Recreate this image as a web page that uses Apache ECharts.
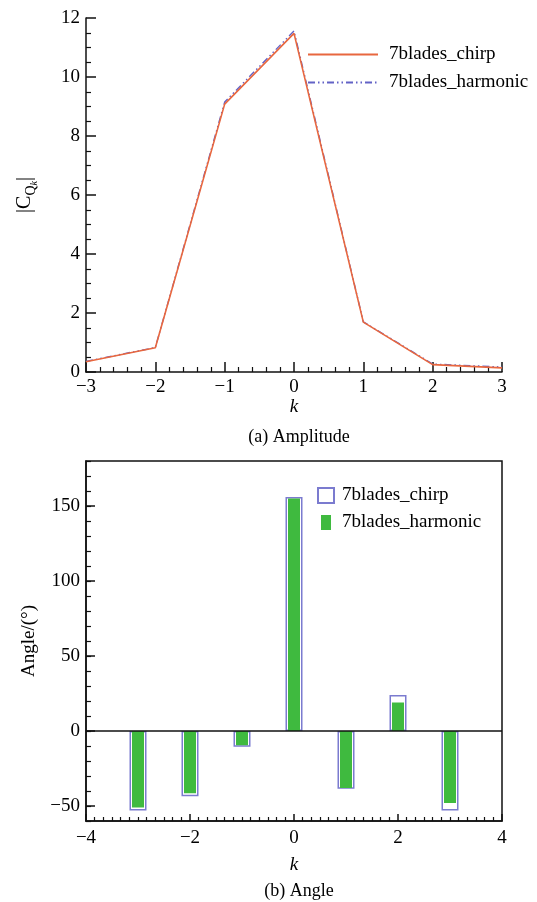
<!DOCTYPE html>
<html>
<head>
<meta charset="utf-8">
<script src="https://cdn.jsdelivr.net/npm/echarts@6/dist/echarts.min.js"></script>
<style>
html,body{margin:0;padding:0;background:#fff;}
#main{width:537px;height:902px;}
</style>
</head>
<body>
<div id="main"></div>
<script>
// ---- data ----
const kAmp = [-3, -2, -1, 0, 1, 2, 3];
const ampChirp = [0.35, 0.82, 9.08, 11.48, 1.69, 0.25, 0.14];
const ampHarmonic = [0.36, 0.83, 9.15, 11.56, 1.70, 0.27, 0.17];

const kAngle = [-3, -2, -1, 0, 1, 2, 3];
const angleChirp = [-53, -43.5, -10.5, 156, -38.5, 24, -53];
const angleHarmonic = [-51, -41.5, -9.5, 155, -38, 19, -48];

const angleLabelValues = [-50, 0, 50, 100, 150];

const FONT = 'Liberation Serif';
const minus = v => String(v).replace('-', '\u2212');

const pairs = (xs, ys) => xs.map((x, i) => [x, ys[i]]);

const axisCommon = {
  type: 'value',
  splitLine: { show: false },
  axisLine: { show: true, onZero: false, lineStyle: { color: '#111', width: 1.5 } },
  axisLabel: { color: '#000', fontFamily: FONT, fontSize: 19, formatter: minus }
};

const chart = echarts.init(document.getElementById('main'));
chart.setOption({
  backgroundColor: '#fff',
  animation: false,
  title: [
    { text: '(a) Amplitude', left: 294, top: 423, textAlign: 'center',
      textStyle: { fontFamily: FONT, fontSize: 18, fontWeight: 'normal', color: '#000' } },
    { text: '(b) Angle', left: 294, top: 877, textAlign: 'center',
      textStyle: { fontFamily: FONT, fontSize: 18, fontWeight: 'normal', color: '#000' } }
  ],
  legend: [
    {
      orient: 'vertical', left: 302, top: 40, itemWidth: 70, itemHeight: 14, itemGap: 9,
      data: ['7blades_chirp', '7blades_harmonic'],
      itemStyle: { opacity: 0 },
      textStyle: { fontFamily: FONT, fontSize: 19, color: '#000', padding: [0, 0, 0, 6] },
      selectedMode: false
    },
    {
      orient: 'vertical', left: 312, top: 481, itemWidth: 16, itemHeight: 15, itemGap: 8,
      data: [
        { name: 'chirp_b', icon: 'rect' },
        { name: 'harmonic_b', icon: 'path://M0,0h10v15h-10z' }
      ],
      formatter: n => n === 'chirp_b' ? '7blades_chirp' : '7blades_harmonic',
      textStyle: { fontFamily: FONT, fontSize: 19, color: '#000', padding: [0, 0, 0, 3] },
      selectedMode: false
    }
  ],
  grid: [
    { left: 86, top: 18, width: 416, height: 354, show: false },
    { left: 86, top: 461, width: 416, height: 360, show: true, borderColor: '#111', borderWidth: 1.5 }
  ],
  xAxis: [
    Object.assign({}, axisCommon, {
      gridIndex: 0, min: -3, max: 3, interval: 1, position: 'bottom',
      axisTick: { inside: true, length: 10, lineStyle: { color: '#111', width: 1.5 } },
      minorTick: { show: true, splitNumber: 5, length: 5, lineStyle: { color: '#111', width: 1.2 } },
      axisLabel: Object.assign({}, axisCommon.axisLabel, { margin: 6 }),
      name: 'k', nameLocation: 'middle', nameGap: 23,
      nameTextStyle: { fontFamily: FONT, fontSize: 19, fontStyle: 'italic', color: '#000' }
    }),
    Object.assign({}, axisCommon, {
      gridIndex: 1, min: -4, max: 4, interval: 2, position: 'bottom',
      axisTick: { inside: true, length: 7, lineStyle: { color: '#111', width: 1.5 } },
      minorTick: { show: true, splitNumber: 12, length: 4, lineStyle: { color: '#111', width: 1.2 } },
      axisLabel: Object.assign({}, axisCommon.axisLabel, { margin: 8 }),
      name: 'k', nameLocation: 'middle', nameGap: 34,
      nameTextStyle: { fontFamily: FONT, fontSize: 19, fontStyle: 'italic', color: '#000' }
    }),
    {
      type: 'value', gridIndex: 1, min: -4, max: 4, show: false, position: 'bottom'
    }
  ],
  yAxis: [
    Object.assign({}, axisCommon, {
      gridIndex: 0, min: 0, max: 12, interval: 2, position: 'left',
      axisTick: { inside: true, length: 10, lineStyle: { color: '#111', width: 1.5 } },
      minorTick: { show: true, splitNumber: 4, length: 5, lineStyle: { color: '#111', width: 1.2 } },
      axisLabel: Object.assign({}, axisCommon.axisLabel, { margin: 6 }),
      name: '{a||C}{b|Q}{c|k}{a||}', nameLocation: 'middle', nameGap: 45, nameRotate: 90,
      nameTextStyle: {
        fontFamily: FONT, fontSize: 19, color: '#000',
        rich: {
          a: { fontFamily: FONT, fontSize: 20, color: '#000', lineHeight: 26, verticalAlign: 'top' },
          b: { fontFamily: FONT, fontSize: 14, color: '#000', lineHeight: 26, verticalAlign: 'top', padding: [9, 0, 0, 0] },
          c: { fontFamily: FONT, fontSize: 10, fontStyle: 'italic', color: '#000', lineHeight: 26, verticalAlign: 'top', padding: [14, 0, 0, 0] }
        }
      }
    }),
    Object.assign({}, axisCommon, {
      gridIndex: 1, min: -60, max: 180, interval: 10, position: 'left',
      axisTick: { inside: true, length: 5, lineStyle: { color: '#111', width: 1.2 } },
      axisLabel: { show: false }
    }),
    Object.assign({}, axisCommon, {
      gridIndex: 1, min: -60, max: 180, interval: 10, position: 'left', offset: 0,
      axisLine: { show: false, onZero: false },
      axisTick: { inside: true, length: 9, customValues: angleLabelValues, lineStyle: { color: '#111', width: 1.5 } },
      axisLabel: Object.assign({}, axisCommon.axisLabel, { margin: 6, customValues: angleLabelValues }),
      name: 'Angle/(°)', nameLocation: 'middle', nameGap: 47, nameRotate: 90,
      nameTextStyle: { fontFamily: FONT, fontSize: 19, color: '#000' }
    })
  ],
  series: [
    {
      name: '7blades_chirp', type: 'line', xAxisIndex: 0, yAxisIndex: 0,
      data: pairs(kAmp, ampChirp), symbol: 'none',
      lineStyle: { color: '#e8673f', width: 1.6 }, itemStyle: { color: '#e8673f' }
    },
    {
      name: '7blades_harmonic', type: 'line', xAxisIndex: 0, yAxisIndex: 0,
      data: pairs(kAmp, ampHarmonic), symbol: 'none', z: 1,
      lineStyle: { color: '#6262c6', width: 1.4, type: [7, 3, 1.5, 3, 1.5, 3] }, itemStyle: { color: '#6262c6' }
    },
    {
      name: 'chirp_b', type: 'bar', xAxisIndex: 1, yAxisIndex: 1,
      data: pairs(kAngle, angleChirp), barWidth: 17,
      itemStyle: { color: '#fff', borderColor: '#7b7bcf', borderWidth: 1.5 },
      markLine: {
        silent: true, symbol: 'none', label: { show: false },
        lineStyle: { color: '#111', width: 1.5, type: 'solid' },
        data: [{ yAxis: 0 }]
      }
    },
    {
      name: 'harmonic_b', type: 'bar', xAxisIndex: 2, yAxisIndex: 1,
      data: pairs(kAngle, angleHarmonic), barWidth: 12,
      itemStyle: { color: '#3fba3f' }
    }
  ]
});
</script>
</body>
</html>
